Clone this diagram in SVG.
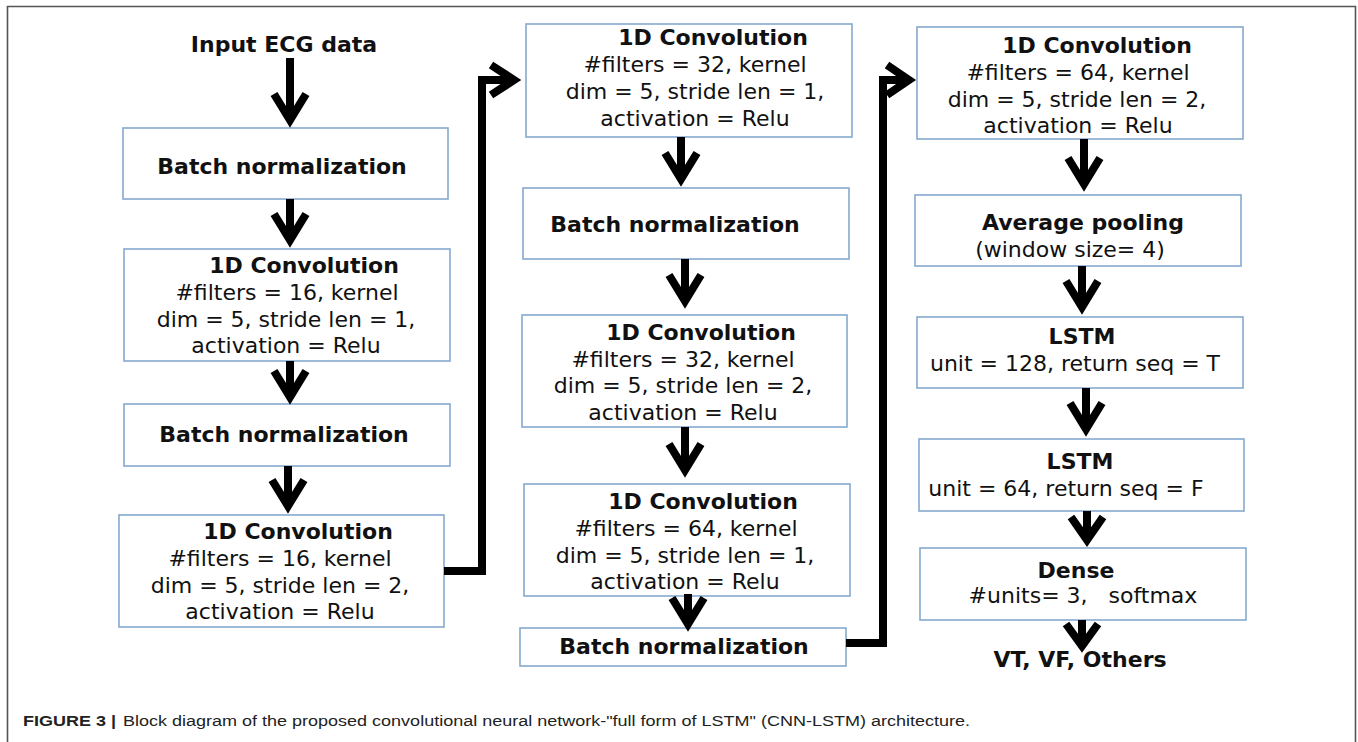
<svg xmlns="http://www.w3.org/2000/svg" width="1358" height="742" viewBox="0 0 1358 742">
<style>
.frame{fill:none;stroke:#555;stroke-width:1.6}
.box{fill:#fff;stroke:#86a9d0;stroke-width:1.6}
.t{font-family:"DejaVu Sans",sans-serif;font-size:22px;fill:#111;text-anchor:middle}
.b{font-weight:bold}
.arr{fill:none;stroke:#000;stroke-width:8;stroke-linejoin:miter;stroke-miterlimit:6}
.cap{font-family:"Liberation Sans",Arial,sans-serif;font-size:15.5px;fill:#222}
</style>
<rect width="1358" height="742" fill="#fff"/>
<path class="frame" d="M7.5,742 V6.5 H1355.5 V742"/>

<g id="input">
<text class="t b" x="284" y="52">Input ECG data</text>
</g>

<g id="bn1">
<rect class="box" x="123" y="128" width="325" height="71"/>
<text class="t b" x="282" y="174">Batch normalization</text>
</g>

<g id="conv1">
<rect class="box" x="124" y="249" width="326" height="112"/>
<text class="t b" x="304" y="273">1D Convolution</text>
<text class="t" x="287" y="300">#filters = 16, kernel</text>
<text class="t" x="286" y="327">dim = 5, stride len = 1,</text>
<text class="t" x="286" y="353">activation = Relu</text>
</g>

<g id="bn2">
<rect class="box" x="124" y="404" width="326" height="62"/>
<text class="t b" x="284" y="442">Batch normalization</text>
</g>

<g id="conv2">
<rect class="box" x="119" y="515" width="325" height="112"/>
<text class="t b" x="298" y="539">1D Convolution</text>
<text class="t" x="280" y="566">#filters = 16, kernel</text>
<text class="t" x="280" y="593">dim = 5, stride len = 2,</text>
<text class="t" x="280" y="619">activation = Relu</text>
</g>

<g id="conv3">
<rect class="box" x="526" y="24" width="326" height="113"/>
<text class="t b" x="713" y="45">1D Convolution</text>
<text class="t" x="695" y="72">#filters = 32, kernel</text>
<text class="t" x="695" y="99">dim = 5, stride len = 1,</text>
<text class="t" x="695" y="126">activation = Relu</text>
</g>

<g id="bn3">
<rect class="box" x="523" y="188" width="326" height="71"/>
<text class="t b" x="675" y="232">Batch normalization</text>
</g>

<g id="conv4">
<rect class="box" x="522" y="315" width="325" height="112"/>
<text class="t b" x="701" y="340">1D Convolution</text>
<text class="t" x="683" y="367">#filters = 32, kernel</text>
<text class="t" x="683" y="393">dim = 5, stride len = 2,</text>
<text class="t" x="683" y="420">activation = Relu</text>
</g>

<g id="conv5">
<rect class="box" x="524" y="484" width="326" height="112"/>
<text class="t b" x="703" y="509">1D Convolution</text>
<text class="t" x="686" y="536">#filters = 64, kernel</text>
<text class="t" x="685" y="563">dim = 5, stride len = 1,</text>
<text class="t" x="685" y="589">activation = Relu</text>
</g>

<g id="bn4">
<rect class="box" x="520" y="628" width="326" height="38"/>
<text class="t b" x="684" y="654">Batch normalization</text>
</g>

<g id="conv6">
<rect class="box" x="917" y="27" width="326" height="112"/>
<text class="t b" x="1097" y="53">1D Convolution</text>
<text class="t" x="1078" y="80">#filters = 64, kernel</text>
<text class="t" x="1077" y="107">dim = 5, stride len = 2,</text>
<text class="t" x="1078" y="133">activation = Relu</text>
</g>

<g id="pool">
<rect class="box" x="915" y="195" width="326" height="71"/>
<text class="t b" x="1083" y="230">Average pooling</text>
<text class="t" x="1070" y="257">(window size= 4)</text>
</g>

<g id="lstm1">
<rect class="box" x="917" y="317" width="326" height="71"/>
<text class="t b" x="1082" y="344">LSTM</text>
<text class="t" x="1075" y="371">unit = 128, return seq = T</text>
</g>

<g id="lstm2">
<rect class="box" x="919" y="439" width="325" height="72"/>
<text class="t b" x="1080" y="469">LSTM</text>
<text class="t" x="1066" y="496">unit = 64, return seq = F</text>
</g>

<g id="dense">
<rect class="box" x="920" y="548" width="326" height="72"/>
<text class="t b" x="1076" y="578">Dense</text>
<text class="t" x="1083" y="603" xml:space="preserve">#units= 3,   softmax</text>
</g>

<g id="connectors">
<path class="arr" d="M290,58 V120 M274,94 L290,120 L306,94"/>
<path class="arr" d="M290,199 V240 M274,214 L290,240 L306,214"/>
<path class="arr" d="M290,361 V397 M274,371 L290,397 L306,371"/>
<path class="arr" d="M288,466 V506 M272,480 L288,506 L304,480"/>
<path class="arr" d="M444,571 H482 V80 H514 M491,65 L514,80 L491,95"/>
<path class="arr" d="M681,137 V179 M665,153 L681,179 L697,153"/>
<path class="arr" d="M685,259 V301 M669,275 L685,301 L701,275"/>
<path class="arr" d="M685,427 V470 M669,444 L685,470 L701,444"/>
<path class="arr" d="M688,594 V624 M672,598 L688,624 L704,598"/>
<path class="arr" d="M846,643 H883 V80 H909 M887,65 L909,80 L887,95"/>
<path class="arr" d="M1084,139 V184 M1068,158 L1084,184 L1100,158"/>
<path class="arr" d="M1082,266 V307 M1066,281 L1082,307 L1098,281"/>
<path class="arr" d="M1086,388 V429 M1070,403 L1086,429 L1102,403"/>
<path class="arr" d="M1087,511 V540 M1071,517 L1087,540 L1103,517"/>
<path class="arr" d="M1082,620 V646 M1066,624 L1082,646 L1098,624"/>
</g>

<g id="output">
<text class="t b" x="1080" y="667">VT, VF, Others</text>
</g>

<g id="caption">
<text class="cap" x="23" y="726"><tspan font-weight="bold" textLength="93" lengthAdjust="spacingAndGlyphs">FIGURE 3 |</tspan><tspan x="123" textLength="847" lengthAdjust="spacingAndGlyphs">Block diagram of the proposed convolutional neural network-"full form of LSTM" (CNN-LSTM) architecture.</tspan></text>
</g>
</svg>
